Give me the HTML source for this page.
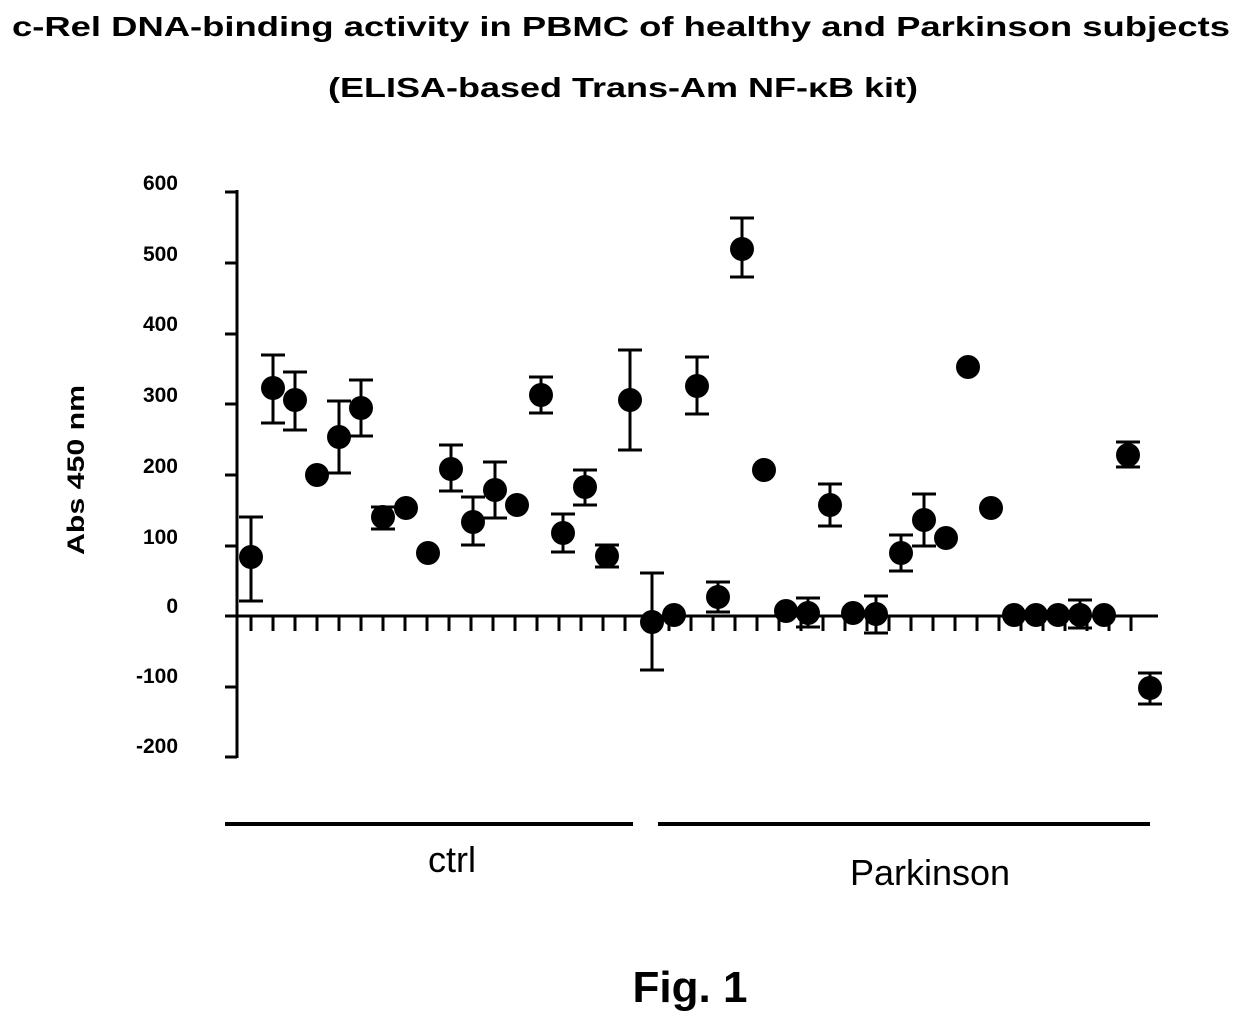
<!DOCTYPE html>
<html><head><meta charset="utf-8"><style>
body{margin:0;background:#fff;width:1240px;height:1023px;overflow:hidden}
svg{display:block}
text{font-family:"Liberation Sans",sans-serif}
</style></head><body>
<svg id="s" width="1240" height="1023" xmlns="http://www.w3.org/2000/svg">
<text x="12" y="36" font-size="28" font-weight="bold" textLength="1218" lengthAdjust="spacingAndGlyphs">c-Rel DNA-binding activity in PBMC of healthy and Parkinson subjects</text>
<text x="328" y="97" font-size="28" font-weight="bold" textLength="590" lengthAdjust="spacingAndGlyphs">(ELISA-based Trans-Am NF-κB kit)</text>
<g font-size="21" font-weight="bold" text-anchor="end">
<text x="178" y="190">600</text><text x="178" y="261">500</text><text x="178" y="331">400</text>
<text x="178" y="402">300</text><text x="178" y="473">200</text><text x="178" y="544">100</text>
<text x="178" y="613">0</text><text x="178" y="683">-100</text><text x="178" y="753">-200</text>
</g>
<text transform="translate(84,470) rotate(-90)" text-anchor="middle" font-size="24" font-weight="bold" textLength="170" lengthAdjust="spacingAndGlyphs">Abs 450 nm</text>
<g stroke="#000" stroke-width="3" fill="none" id="ax">
<line x1="237" y1="190" x2="237" y2="758"/>
<line x1="237" y1="616" x2="1158" y2="616"/>
<line x1="225" y1="824" x2="633" y2="824" stroke-width="4"/>
<line x1="658" y1="824" x2="1150" y2="824" stroke-width="4"/>
</g>
<text x="452" y="872" text-anchor="middle" font-size="36">ctrl</text>
<text x="930" y="885" text-anchor="middle" font-size="36">Parkinson</text>
<text x="690" y="1002" text-anchor="middle" font-size="44" font-weight="bold">Fig. 1</text>
<g id="d"></g>
</svg>
<script>
var ns="http://www.w3.org/2000/svg",ax=document.getElementById('ax'),d=document.getElementById('d');
function el(p,t,a){var e=document.createElementNS(ns,t);for(var k in a)e.setAttribute(k,a[k]);p.appendChild(e);return e;}
[192,263,334,404,475,546,616,687,757].forEach(function(y){el(ax,'line',{x1:225,y1:y,x2:237,y2:y});});
for(var x=251;x<=1152;x+=22.0){el(ax,'line',{x1:x,y1:616,x2:x,y2:631});}
var P=[[251,557,517,601],[273,388,355,423],[295,400,372,430],[317,475],[339,437,401,473],[361,408,380,436],[383,517,507,529],[406,508],[428,553],[451,469,445,491],[473,522,497,545],[495,490,462,518],[517,505],[541,395,377,413],[563,533,514,552],[585,487,470,505],[607,556,545,567],[630,400,350,450],[652,622,573,670],[674,615],[697,386,357,414],[718,597,582,612],[742,249,218,277],[764,470],[786,611],[808,613,598,627],[830,505,484,526],[853,613],[876,614,596,633],[901,553,535,571],[924,520,494,546],[946,538],[968,367],[991,508],[1014,615],[1036,615],[1058,615],[1080,615,600,628],[1104,615],[1128,455,442,467],[1150,688,673,704]];
P.forEach(function(p){
 if(p.length>2){el(d,'line',{x1:p[0],y1:p[2],x2:p[0],y2:p[3],stroke:'#000','stroke-width':3});
  el(d,'line',{x1:p[0]-12,y1:p[2],x2:p[0]+12,y2:p[2],stroke:'#000','stroke-width':3});
  el(d,'line',{x1:p[0]-12,y1:p[3],x2:p[0]+12,y2:p[3],stroke:'#000','stroke-width':3});}
 el(d,'circle',{cx:p[0],cy:p[1],r:12,fill:'#000'});
});
</script>
</body></html>
